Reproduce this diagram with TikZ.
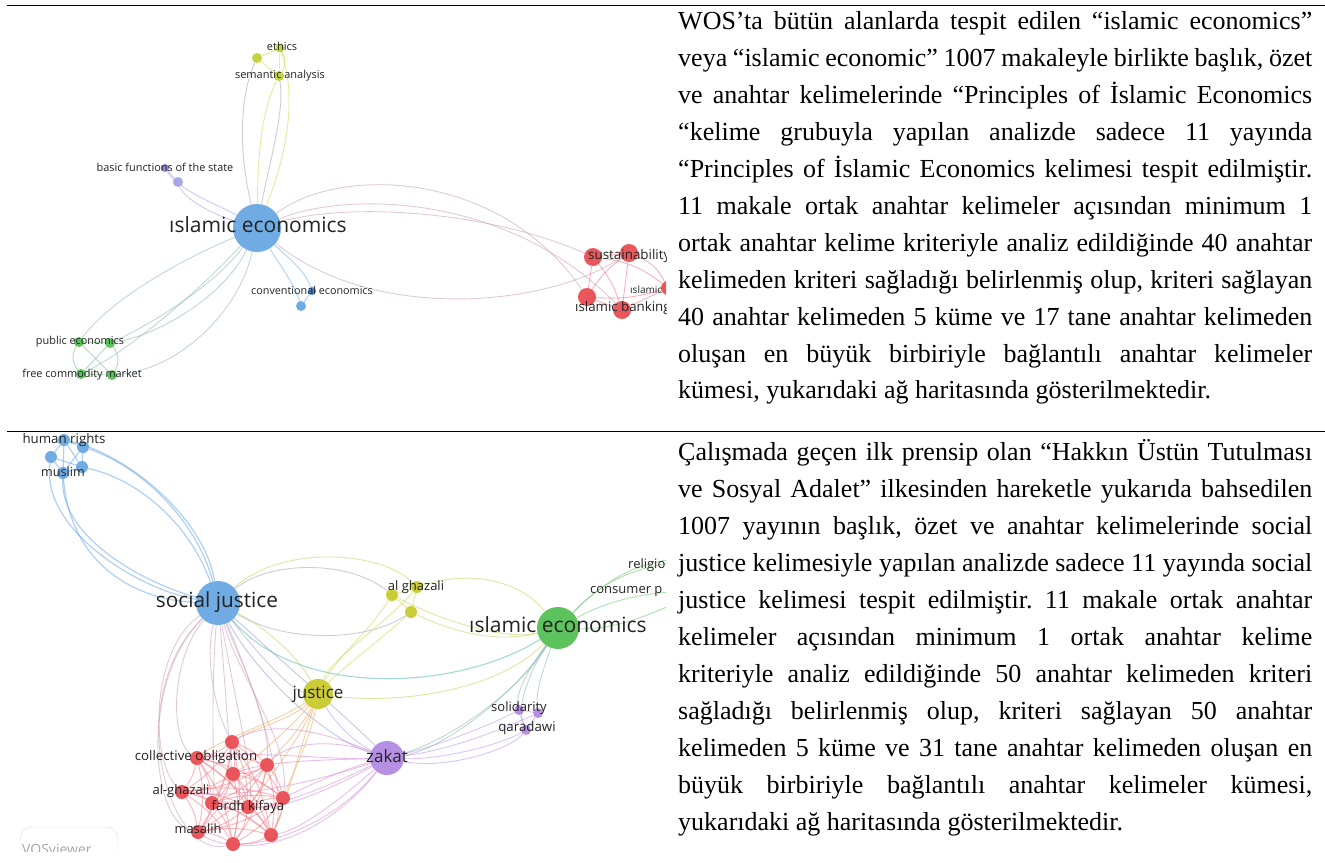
\documentclass[tikz,border=0pt]{standalone}
\usepackage{fontspec}
\setmainfont{Liberation Serif}
\newfontfamily\lab{Open Sans}
\frenchspacing
\definecolor{cblue}{RGB}{100,165,225}
\definecolor{cblued}{RGB}{60,125,205}
\definecolor{clime}{RGB}{190,210,45}
\definecolor{clav}{RGB}{160,160,230}
\definecolor{clavd}{RGB}{130,130,210}
\definecolor{cgreen}{RGB}{80,190,80}
\definecolor{cred}{RGB}{232,72,78}
\definecolor{colive}{RGB}{200,200,40}
\definecolor{cpurple}{RGB}{175,135,225}
\definecolor{labc}{RGB}{35,35,35}
\definecolor{egray}{RGB}{165,165,190}
\definecolor{egp}{RGB}{200,160,185}
\definecolor{epink}{RGB}{245,120,130}
\definecolor{eyel}{RGB}{205,220,80}
\definecolor{elav}{RGB}{165,160,235}
\definecolor{eblu}{RGB}{110,170,235}
\definecolor{egrn}{RGB}{110,200,110}
\definecolor{egb}{RGB}{140,185,175}
\definecolor{eteal}{RGB}{90,185,175}
\definecolor{eora}{RGB}{240,170,90}
\definecolor{epp}{RGB}{215,140,215}
\definecolor{epur}{RGB}{190,150,235}
\definecolor{ebp}{RGB}{150,150,220}
\definecolor{eyg}{RGB}{190,215,90}
\tikzset{
  vn/.style={circle,inner sep=0pt,draw=none},
  e/.style={line width=0.9pt,opacity=0.55},
  lbl/.style={anchor=mid,inner sep=0pt,text=labc,yshift={-0.11*#1pt},font=\lab\fontsize{#1pt}{#1pt}\selectfont},
  tl/.style={anchor=mid west,inner sep=0pt,font=\fontsize{26pt}{30pt}\selectfont},
}
\newcommand\jl[1]{\makebox[634pt][s]{#1}}
\def\nodesA{ie1/257/228/24/cblue,eth1/257/58/5/clime,eth2/280/48/4.5/clime,sem/279/76/5/clime,bas1/165/168/4/clavd,bas2/178/182/5/clav,conv1/312/291/4/cblued,conv2/301/306/5/cblue,pub1/79/342/5/cgreen,pub2/110/343/5/cgreen,fre1/81/374/5/cgreen,fre2/112/375/5/cgreen,sus1/593/257/9/cred,sus2/629/253/9/cred,ib1/587/297/9/cred,ib2/622/310/9/cred,isl/668/288/7/cred}
\def\nodesB{sj/218/603/22/cblue,h1/64/440/6/cblue,h2/83/447/6/cblue,h3/51/457/6/cblue,h4/82/467/6/cblue,h5/63/473/6/cblue,ag1/392/595/6/colive,ag2/417/587/6/colive,ag3/411/612/6/colive,ie2/558/628/21/cgreen,just/318/694/15/colive,sol1/519/710/5/cpurple,sol2/538/713/5/cpurple,qar/526/730/5/cpurple,zak/387/758/17/cpurple,rel/700/560/6/cgreen,cons/700/592/6/cgreen,r1/232/742/7/cred,r2/197/758/7/cred,r3/267/765/7/cred,r4/233/774/7/cred,r5/182/792/7/cred,r6/212/803/7/cred,r7/248/807/7/cred,r8/283/798/7/cred,r9/198/832/7/cred,r10/271/835/7/cred,r11/233/844/7/cred}
\begin{document}
\begin{tikzpicture}[x=1pt,y=-1pt]
\useasboundingbox (0,0) rectangle (1325,862);
\fill[white] (0,0) rectangle (1325,862);
% ---------------- diagram 1 ----------------
\begin{scope}
\clip (0,8) rectangle (666,430);
\foreach \n/\x/\y/\r/\c in \nodesA {\node[vn,minimum size={2*\r pt}] (\n) at (\x,\y) {};}
% ethics cluster
\draw[e,egray] (ie1) .. controls (238,150) and (240,95) .. (eth1);
\draw[e,eyel] (ie1) .. controls (258,150) and (262,110) .. (sem);
\draw[e,eyel] (ie1) .. controls (285,160) and (298,100) .. (eth2);
\draw[e,egray] (ie1) .. controls (270,160) and (285,110) .. (sem);
\draw[e,eyel] (eth1) -- (eth2);
\draw[e,eyel] (eth1) -- (sem);
\draw[e,eyel] (eth2) -- (sem);
\draw[e,eyel] (eth2) to[bend left=30] (sem);
% basic functions
\draw[e,elav] (ie1) .. controls (215,215) and (185,200) .. (bas2);
\draw[e,elav] (ie1) .. controls (220,205) and (180,192) .. (bas1);
\draw[e,elav] (bas1) -- (bas2);
% conventional
\draw[e,eblu] (ie1) .. controls (280,265) and (295,285) .. (conv2);
\draw[e,eblu] (ie1) .. controls (285,255) and (305,270) .. (conv1);
\draw[e,eblu] (conv1) -- (conv2);
% to red cluster
\draw[e,egp] (ie1) .. controls (340,165) and (500,170) .. (ib1);
\draw[e,egp] (ie1) .. controls (350,190) and (510,195) .. (ib2);
\draw[e,egp] (ie1) .. controls (360,200) and (500,215) .. (sus1);
\draw[e,egp] (ie1) .. controls (370,320) and (540,310) .. (sus2);
% to green cluster
\draw[e,egb] (ie1) .. controls (180,260) and (110,300) .. (pub1);
\draw[e,egb] (ie1) .. controls (215,285) and (150,325) .. (pub2);
\draw[e,egb] (ie1) .. controls (225,295) and (160,335) .. (pub2);
\draw[e,egb] (ie1) .. controls (240,310) and (180,370) .. (fre2);
\draw[e,egb] (ie1) .. controls (200,290) and (130,350) .. (fre1);
% green intra
\draw[e,egrn] (pub1) -- (pub2);
\draw[e,egrn] (fre1) -- (fre2);
\draw[e,egrn] (pub1) to[bend right=35] (fre1);
\draw[e,egrn] (pub2) to[bend left=35] (fre2);
\draw[e,egrn] (pub1) -- (fre2);
\draw[e,egrn] (pub2) -- (fre1);
% red intra
\draw[e,epink] (sus1) -- (sus2);
\draw[e,epink] (sus1) -- (ib1);
\draw[e,epink] (sus2) -- (ib2);
\draw[e,epink] (ib1) -- (ib2);
\draw[e,epink] (sus1) to[bend left=10] (ib2);
\draw[e,epink] (sus2) to[bend right=10] (ib1);
\draw[e,epink] (sus2) to[bend left=20] (isl);
\draw[e,epink] (ib2) -- (isl);
\draw[e,epink] (sus1) to[bend left=15] (isl);
\draw[e,epink] (ib1) to[bend right=10] (isl);
\foreach \n/\x/\y/\r/\c in \nodesA {\fill[\c,opacity=0.92] (\n.center) circle[radius=\r pt];}
\node[lbl=11] (t1) at (282,47) {ethics};
\node[lbl=11] (t2) at (280,75) {semantic analysis};
\node[lbl=10.9] (t3) at (165,168) {basic functions of the state};
\node[lbl=21] (t4) at (258,228) {ıslamic economics};
\node[lbl=10.8] (t5) at (312,291) {conventional economics};
\node[lbl=10.9] (t6) at (80,341) {public economics};
\node[lbl=10.9] (t7) at (82,374) {free commodity market};
\node[lbl=13.4,anchor=mid west] (t8) at (588,256) {sustainability};
\node[lbl=10,anchor=mid west] (t9) at (630,290) {ıslamic};
\node[lbl=13.3,anchor=mid west] (t10) at (575,308) {ıslamic banking};
\end{scope}
% ---------------- diagram 2 ----------------
\begin{scope}
\clip (0,433) rectangle (666,851);
\foreach \n/\x/\y/\r/\c in \nodesB {\node[vn,minimum size={2*\r pt}] (\n) at (\x,\y) {};}
% blue cluster
\draw[e,eblu,line width=1.2pt] (sj) .. controls (150,585) and (60,540) .. (h5);
\draw[e,eblu,line width=1.2pt] (sj) .. controls (140,590) and (40,530) .. (h3);
\draw[e,eblu,line width=1.2pt] (sj) .. controls (200,530) and (150,470) .. (h2);
\draw[e,eblu,line width=1.2pt] (sj) .. controls (190,525) and (140,480) .. (h4);
\draw[e,eblu,line width=1.2pt] (sj) .. controls (205,520) and (130,455) .. (h1);
\draw[e,eblu,line width=1.2pt] (sj) .. controls (130,600) and (70,560) .. (h5);
\foreach \a/\b in {h1/h2,h1/h3,h2/h4,h3/h5,h4/h5,h1/h4,h3/h4,h2/h5,h1/h5}{\draw[e,eblu,line width=1.2pt] (\a) -- (\b);}
% social justice to al ghazali, ie, justice, zakat
\draw[e,egray] (sj) .. controls (270,560) and (350,560) .. (ag1);
\draw[e,eyg] (sj) .. controls (280,545) and (380,550) .. (ag2);
\draw[e,egray] (sj) .. controls (290,645) and (370,640) .. (ag3);
\draw[e,eteal,line width=1.1pt] (sj) .. controls (300,700) and (460,690) .. (ie2);
\draw[e,eyg] (sj) .. controls (270,630) and (300,660) .. (just);
\draw[e,egray] (sj) .. controls (255,650) and (290,690) .. (just);
\draw[e,ebp] (sj) .. controls (260,680) and (330,740) .. (zak);
\draw[e,ebp] (sj) .. controls (280,660) and (350,720) .. (zak);
% social justice to red cluster
\draw[e,egp] (sj) .. controls (150,650) and (150,760) .. (r5);
\draw[e,egp] (sj) .. controls (170,660) and (170,740) .. (r2);
\draw[e,egp] (sj) .. controls (205,660) and (215,710) .. (r1);
\draw[e,egp] (sj) .. controls (140,680) and (150,820) .. (r9);
\draw[e,egp] (sj) .. controls (225,680) and (230,760) .. (r4);
\draw[e,egp] (sj) .. controls (240,660) and (270,720) .. (r3);
\draw[e,egp] (sj) .. controls (240,680) and (290,740) .. (r8);
\draw[e,egp] (sj) .. controls (235,700) and (255,780) .. (r7);
\draw[e,egp] (sj) .. controls (210,700) and (215,790) .. (r6);
\draw[e,egp] (sj) .. controls (260,700) and (290,800) .. (r10);
\draw[e,egp] (sj) .. controls (120,700) and (170,860) .. (r11);
% al ghazali
\draw[e,eyel] (ag1) -- (ag2);
\draw[e,eyel] (ag1) -- (ag3);
\draw[e,eyel] (ag2) -- (ag3);
\draw[e,eyg] (ag2) .. controls (470,570) and (520,580) .. (ie2);
\draw[e,eyg] (ag3) .. controls (470,640) and (510,640) .. (ie2);
\draw[e,eyg] (ag1) .. controls (450,625) and (510,640) .. (ie2);
\draw[e,eyel] (ag1) .. controls (370,630) and (335,660) .. (just);
\draw[e,eyel] (ag3) .. controls (380,640) and (340,670) .. (just);
\draw[e,eyel] (ag2) .. controls (390,620) and (330,660) .. (just);
% justice
\draw[e,eyg] (just) .. controls (400,705) and (500,690) .. (ie2);
\draw[e,epur] (just) .. controls (340,730) and (360,745) .. (zak);
\draw[e,eora] (just) .. controls (290,720) and (250,730) .. (r1);
\draw[e,eora] (just) .. controls (300,730) and (280,750) .. (r3);
\draw[e,eora] (just) .. controls (310,740) and (290,780) .. (r8);
\draw[e,eora] (just) .. controls (300,750) and (280,820) .. (r10);
\draw[e,eora] (just) .. controls (280,720) and (220,740) .. (r2);
\draw[e,eora] (just) .. controls (300,740) and (260,790) .. (r7);
\draw[e,eora] (just) .. controls (290,730) and (240,770) .. (r4);
% islamic economics
\draw[e,egb] (ie2) .. controls (535,660) and (515,690) .. (sol1);
\draw[e,egb] (ie2) .. controls (545,665) and (535,690) .. (sol2);
\draw[e,egb] (ie2) .. controls (530,670) and (515,710) .. (qar);
\draw[e,egrn] (ie2) .. controls (590,595) and (620,565) .. (rel);
\draw[e,egrn] (ie2) .. controls (600,605) and (640,590) .. (cons);
\draw[e,egrn] (ie2) .. controls (620,630) and (660,610) .. (cons);
\draw[e,egrn] (ie2) .. controls (600,585) and (640,555) .. (rel);
\draw[e,egb] (ie2) .. controls (520,690) and (450,740) .. (zak);
\draw[e,egb] (ie2) .. controls (510,700) and (440,750) .. (zak);
% zakat
\draw[e,epur] (zak) .. controls (440,760) and (500,745) .. (qar);
\draw[e,epur] (zak) .. controls (440,745) and (490,725) .. (sol1);
\draw[e,epur] (zak) .. controls (445,770) and (510,750) .. (qar);
\draw[e,epur] (zak) .. controls (450,750) and (500,730) .. (sol2);
\draw[e,epur] (sol1) -- (sol2);
\draw[e,epur] (sol1) -- (qar);
\draw[e,epur] (sol2) -- (qar);
\draw[e,epp] (zak) .. controls (340,740) and (290,740) .. (r3);
\draw[e,epp] (zak) .. controls (340,770) and (300,790) .. (r8);
\draw[e,epp] (zak) .. controls (340,800) and (300,830) .. (r10);
\draw[e,epp] (zak) .. controls (330,760) and (270,760) .. (r4);
\draw[e,epp] (zak) .. controls (330,790) and (280,810) .. (r7);
\draw[e,epp] (zak) .. controls (320,730) and (270,720) .. (r1);
\draw[e,epp] (zak) .. controls (340,820) and (280,850) .. (r11);
\draw[e,epp] (zak) .. controls (320,790) and (250,820) .. (r6);
\draw[e,epp] (zak) .. controls (330,760) and (250,750) .. (r2);
\draw[e,epp] (zak) .. controls (330,830) and (240,860) .. (r9);
\draw[e,epp] (zak) .. controls (320,780) and (240,800) .. (r5);
% red intra
\foreach \i in {1,...,11}{\foreach \j in {1,...,11}{\ifnum\i<\j \draw[e,epink,line width=1pt,opacity=0.5] (r\i) to[bend left=12] (r\j);\fi}}
\foreach \n/\x/\y/\r/\c in \nodesB {\fill[\c,opacity=0.92] (\n.center) circle[radius=\r pt];}
\node[lbl=13.3] (u1) at (64,440) {human rights};
\node[lbl=12.6] (u2) at (63,473) {muslim};
\node[lbl=20.8] (u3) at (217,603) {social justice};
\node[lbl=13] (u4) at (416,587) {al ghazali};
\node[lbl=21] (u5) at (558,628) {ıslamic economics};
\node[lbl=13,anchor=mid west] (u6) at (628,565) {religio};
\node[lbl=13,anchor=mid west] (u7) at (590,590) {consumer p};
\node[lbl=17] (u8) at (318,694) {justice};
\node[lbl=13] (u9) at (519,708) {solidarity};
\node[lbl=13.3] (u10) at (527,728) {qaradawi};
\node[lbl=17] (u11) at (387,758) {zakat};
\node[lbl=13.3] (u12) at (196,757) {collective obligation};
\node[lbl=13] (u13) at (181,791) {al-ghazali};
\node[lbl=13.2] (u14) at (248,807) {fardh kifaya};
\node[lbl=12.9] (u15) at (198,830) {masalih};
\draw[gray!25,rounded corners=12pt] (20,827) rectangle (118,890);
\node[lbl=14,anchor=mid west,text=gray!70] (u16) at (22,851) {VOSviewer};
\end{scope}
% ---------------- rules ----------------
\draw[line width=1.7pt] (7,5.5) -- (1325,5.5);
\draw[line width=1.7pt] (7,431.5) -- (20,431.5);
\draw[line width=0.9pt] (20,431.5) -- (666,431.5);
\draw[line width=1.7pt] (666,431.5) -- (1325,431.5);
% ---------------- text block 1 ----------------
\node[tl] (b1) at (678,27.7) {\jl{WOS’ta bütün alanlarda tespit edilen “islamic economics”}};
\node[tl] (b2) at (678,64.6) {\jl{veya “islamic economic” 1007 makaleyle birlikte başlık, özet}};
\node[tl] (b3) at (678,101.5) {\jl{ve anahtar kelimelerinde “Principles of İslamic Economics}};
\node[tl] (b4) at (678,138.4) {\jl{“kelime grubuyla yapılan analizde sadece 11 yayında}};
\node[tl] (b5) at (678,175.3) {\jl{“Principles of İslamic Economics kelimesi tespit edilmiştir.}};
\node[tl] (b6) at (678,212.2) {\jl{11 makale ortak anahtar kelimeler açısından minimum 1}};
\node[tl] (b7) at (678,249.1) {\jl{ortak anahtar kelime kriteriyle analiz edildiğinde 40 anahtar}};
\node[tl] (b8) at (678,286.0) {\jl{kelimeden kriteri sağladığı belirlenmiş olup, kriteri sağlayan}};
\node[tl] (b9) at (678,322.9) {\jl{40 anahtar kelimeden 5 küme ve 17 tane anahtar kelimeden}};
\node[tl] (b10) at (678,359.8) {\jl{oluşan en büyük birbiriyle bağlantılı anahtar kelimeler}};
\node[tl] (b11) at (678,396.7) {kümesi, yukarıdaki ağ haritasında gösterilmektedir.};
% ---------------- text block 2 ----------------
\node[tl] (c1) at (678,458.3) {\jl{Çalışmada geçen ilk prensip olan “Hakkın Üstün Tutulması}};
\node[tl] (c2) at (678,495.3) {\jl{ve Sosyal Adalet” ilkesinden hareketle yukarıda bahsedilen}};
\node[tl] (c3) at (678,532.3) {\jl{1007 yayının başlık, özet ve anahtar kelimelerinde social}};
\node[tl] (c4) at (678,569.3) {\jl{justice kelimesiyle yapılan analizde sadece 11 yayında social}};
\node[tl] (c5) at (678,606.3) {\jl{justice kelimesi tespit edilmiştir. 11 makale ortak anahtar}};
\node[tl] (c6) at (678,643.3) {\jl{kelimeler açısından minimum 1 ortak anahtar kelime}};
\node[tl] (c7) at (678,680.3) {\jl{kriteriyle analiz edildiğinde 50 anahtar kelimeden kriteri}};
\node[tl] (c8) at (678,717.3) {\jl{sağladığı belirlenmiş olup, kriteri sağlayan 50 anahtar}};
\node[tl] (c9) at (678,754.3) {\jl{kelimeden 5 küme ve 31 tane anahtar kelimeden oluşan en}};
\node[tl] (c10) at (678,791.3) {\jl{büyük birbiriyle bağlantılı anahtar kelimeler kümesi,}};
\node[tl] (c11) at (678,828.3) {yukarıdaki ağ haritasında gösterilmektedir.};
\end{tikzpicture}
\end{document}
